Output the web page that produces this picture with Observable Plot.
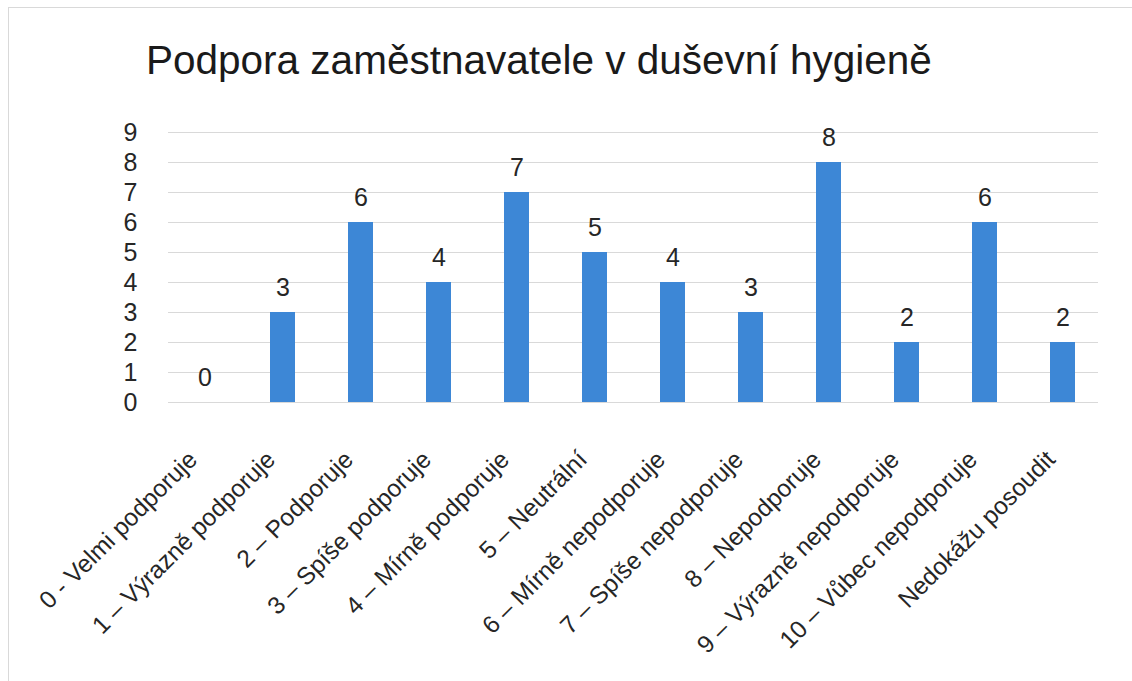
<!DOCTYPE html>
<html><head><meta charset="utf-8">
<script src="https://cdn.jsdelivr.net/npm/d3@7"></script>
<script src="https://cdn.jsdelivr.net/npm/@observablehq/plot@0.6"></script>
<style>
html,body{margin:0;padding:0;background:#fff;overflow:hidden;}
#frame{position:absolute;left:8px;top:7px;width:1130px;height:680px;border-top:1px solid #d9d9d9;border-left:1px solid #d9d9d9;background:#fff;}
#title{position:absolute;left:137px;top:29px;font-family:"Liberation Sans",Arial,sans-serif;font-size:40.5px;color:#1a1a1a;white-space:nowrap;}
#chart{position:absolute;left:0;top:93px;}
</style></head>
<body>
<div id="frame"><div id="title">Podpora zaměstnavatele v duševní hygieně</div><div id="chart"></div></div>
<script>
const categories = ["0 - Velmi podporuje","1 – Výrazně podporuje","2 – Podporuje","3 – Spíše podporuje","4 – Mírně podporuje","5 – Neutrální","6 – Mírně nepodporuje","7 – Spíše nepodporuje","8 – Nepodporuje","9 – Výrazně nepodporuje","10 – Vůbec nepodporuje","Nedokážu posoudit"];
const counts = [0,3,6,4,7,5,4,3,8,2,6,2];
const yTicks = [0,1,2,3,4,5,6,7,8,9];
const data = categories.map((c,i)=>({cat:c, n:counts[i]}));

const chart = Plot.plot({
  width: 1123, height: 580,
  marginLeft: 159, marginRight: 34, marginTop: 31, marginBottom: 279,
  style: {fontFamily: '"Liberation Sans", Arial, sans-serif', color: "#262626", background: "transparent"},
  x: {domain: categories, paddingInner: 0.68, paddingOuter: 0.3, align: 0.5, label: null, tickSize: 0, tickRotate: -45, tickPadding: 53},
  y: {domain: [0,9], ticks: yTicks, label: null, tickSize: 0, tickPadding: 31, tickFormat: d3.format("d")},
  marks: [
    Plot.gridY(yTicks, {stroke: "#d9d9d9", strokeOpacity: 1, strokeWidth: 1.2}),
    Plot.barY(data, {x: "cat", y: "n", fill: "#3d87d6"}),
    Plot.text(data, {x: "cat", y: "n", text: d => String(d.n), lineAnchor: "bottom", dy: -17, fontSize: 25, fill: "#262626"})
  ]
});
chart.querySelectorAll('[aria-label="x-axis tick label"]').forEach(g=>{
  g.setAttribute("font-size","24.5");
  const tr = g.getAttribute("transform") || "";
  g.setAttribute("transform", "translate(-12,0) " + tr);
});
chart.querySelectorAll('[aria-label="y-axis tick label"]').forEach(g=>{g.setAttribute("font-size","25");});
document.getElementById("chart").appendChild(chart);
</script>
</body></html>
